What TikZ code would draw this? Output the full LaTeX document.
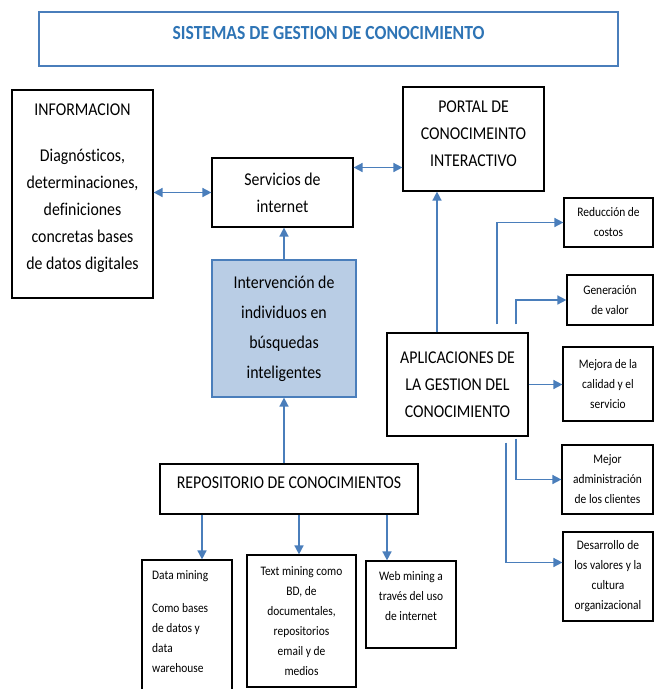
\documentclass[tikz,border=0pt]{standalone}
\usepackage{fontspec}
\setmainfont{Carlito}[FakeStretch=0.88, Ligatures=NoCommon]
\usetikzlibrary{arrows.meta}

\definecolor{azul}{RGB}{74,126,187}
\definecolor{azulclaro}{RGB}{185,205,229}
\definecolor{azultitulo}{RGB}{46,116,181}

\begin{document}
\begin{tikzpicture}[x=1pt, y=-1pt,
    caja/.style={draw, line width=1.2pt, align=center, inner sep=2pt, font=\fontsize{18}{27}\selectfont},
    cajita/.style={caja, font=\fontsize{13}{20}\selectfont},
    texto/.style={align=center, inner sep=2pt, font=\fontsize{18}{27}\selectfont},
    flecha/.style={draw=azul, line width=1.6pt, -{Triangle[length=9pt,width=9pt]}},
    flechas/.style={flecha, {Triangle[length=9pt,width=9pt]}-{Triangle[length=9pt,width=9pt]}}]

    % Size of the picture
    \def\xmax{654}
    \def\ymax{689}
    \clip (0,0) rectangle (\xmax,\ymax);

    % Title
    \node[draw=azul, line width=1.2pt, minimum width=579pt, minimum height=54pt] (titulo) at (328.5,39) {};
    \node[texto, font=\fontsize{20}{24}\selectfont\bfseries, text=azultitulo] (titulotxt) at (328.5,33) {SISTEMAS DE GESTION DE CONOCIMIENTO};

    % Upper row
    \node[caja, minimum width=141pt, minimum height=208pt] (info) at (82.5,194) {};
    \node[texto] (infotxt) at (82.5,188) {INFORMACION\\[19pt] Diagnósticos,\\ determinaciones,\\ definiciones\\ concretas bases\\ de datos digitales};
    \node[caja, minimum width=141pt, minimum height=69pt] (serv) at (282.5,192.5) {Servicios de\\ internet};
    \node[caja, minimum width=141pt, minimum height=104pt] (portal) at (473.5,139) {};
    \node[texto] (portaltxt) at (473.5,134) {PORTAL DE\\ CONOCIMEINTO\\ INTERACTIVO};

    % Middle
    \node[caja, draw=azul, fill=azulclaro, minimum width=144pt, minimum height=137pt, font=\fontsize{18}{30}\selectfont] (interv) at (284,328.5) {Intervención de\\ individuos en\\ búsquedas\\ inteligentes};
    \node[caja, minimum width=141pt, minimum height=103pt] (aplic) at (457.5,384.5) {APLICACIONES DE\\ LA GESTION DEL\\ CONOCIMIENTO};
    \node[caja, minimum width=258pt, minimum height=50pt] (repo) at (289,489) {};
    \node[texto] (repotxt) at (289,483) {REPOSITORIO DE CONOCIMIENTOS};

    % Right column
    \node[cajita, minimum width=89pt, minimum height=49pt] (reduc) at (608.5,222.5) {Reducción de\\ costos};
    \node[cajita, minimum width=86pt, minimum height=50pt] (gener) at (610,300) {Generación\\ de valor};
    \node[cajita, minimum width=90pt, minimum height=74pt] (mejora) at (608,384) {Mejora de la\\ calidad y el\\ servicio};
    \node[cajita, minimum width=91pt, minimum height=69pt] (admin) at (607.5,479.5) {Mejor\\ administración\\ de los clientes};
    \node[cajita, minimum width=90pt, minimum height=89pt] (desarr) at (608,576.5) {Desarrollo de\\ los valores y la\\ cultura\\ organizacional};

    % Bottom row
    \node[cajita, minimum width=90pt, minimum height=140pt] (datamin) at (187,630) {};
    \node[texto, align=left, anchor=north west, font=\fontsize{13}{20}\selectfont] (datamintxt) at (150,568) {Data mining\\[13pt] Como bases\\ de datos y\\ data\\ warehouse};
    \node[cajita, minimum width=109pt, minimum height=132pt] (textmin) at (301.5,621) {Text mining como\\ BD, de\\ documentales,\\ repositorios\\ email y de\\ medios};
    \node[cajita, minimum width=90pt, minimum height=87pt] (webmin) at (411,604.5) {};
    \node[texto, font=\fontsize{13}{20}\selectfont] (webmintxt) at (411,596) {Web mining a\\ través del uso\\ de internet};

    % Arrows of the upper part
    \draw[flechas] (info.east |- serv.west) -- (serv.west);
    \draw[flechas] ([yshift=25pt]serv.east) -- ([yshift=25pt]serv.east -| portal.west);
    \draw[flecha] (interv.north) -- (interv.north |- serv.south);
    \draw[flecha] (interv.south |- repo.north) -- (interv.south);

    % Arrows to the mining boxes
    \foreach \x/\b in {202/datamin, 299/textmin, 387/webmin}
        \draw[flecha] (\x,0 |- repo.south) -- (\x,0 |- \b.north);

    % Arrows of the applications
    \draw[flecha] ([xshift=-20.5pt]aplic.north) -- ([xshift=-20.5pt]aplic.north |- portal.south);
    \draw[flecha, shorten <=8pt] (497,0 |- aplic.north) |- (reduc.west);
    \draw[flecha, shorten <=8pt] (516,0 |- aplic.north) |- (gener.west);
    \draw[flecha] (aplic.east) -- (aplic.east -| mejora.west);
    \draw[flecha, shorten <=2pt] (516,0 |- aplic.south) |- (admin.west);
    \draw[flecha, shorten <=6pt] (506,0 |- aplic.south) |- ([yshift=14pt]desarr.west);

\end{tikzpicture}
\end{document}
